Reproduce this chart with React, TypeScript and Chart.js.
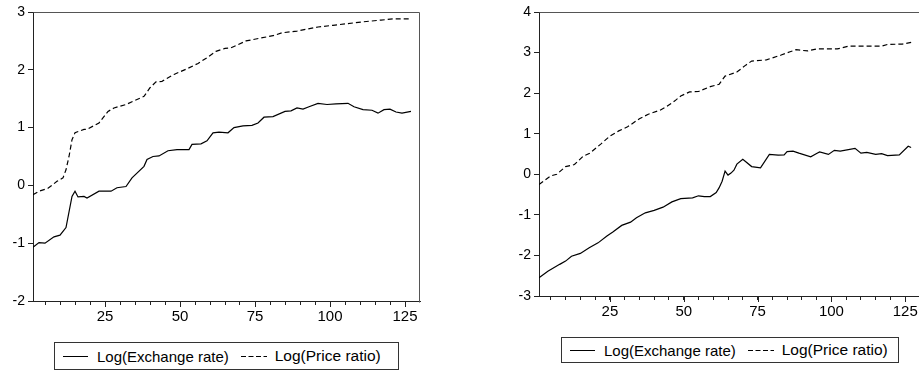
import React, { useEffect, useRef } from "react";
import { Chart, registerables } from "chart.js";

Chart.register(...registerables);

// ---------- data (observation index, value) ----------
const SERIES_NAMES = ["Log(Exchange rate)", "Log(Price ratio)"];

// Left panel
const LEFT_EXCH_OBS = [1, 3, 5, 8, 10, 12, 14, 15, 16, 18, 19, 23, 27, 29, 32, 34, 38, 39, 41, 43, 46, 49, 53, 54, 57, 59, 61, 63, 66, 68, 71, 74, 76, 78, 81, 85, 87, 89, 91, 93, 96, 99, 102, 106, 108, 111, 114, 116, 118, 120, 122, 124, 127];
const LEFT_EXCH_VAL = [-1.07, -0.99, -1.0, -0.89, -0.86, -0.73, -0.19, -0.10, -0.20, -0.19, -0.22, -0.10, -0.10, -0.04, -0.02, 0.13, 0.33, 0.45, 0.50, 0.51, 0.60, 0.62, 0.62, 0.71, 0.72, 0.77, 0.91, 0.92, 0.91, 1.0, 1.03, 1.04, 1.08, 1.18, 1.19, 1.28, 1.29, 1.34, 1.32, 1.36, 1.42, 1.40, 1.41, 1.42, 1.36, 1.31, 1.30, 1.25, 1.31, 1.32, 1.27, 1.25, 1.28];
const LEFT_PRICE_OBS = [1, 3, 6, 9, 11, 12, 13, 14, 15, 18, 19, 23, 26, 28, 32, 38, 40, 42, 44, 48, 52, 56, 59, 62, 65, 67, 72, 77, 81, 84, 89, 96, 101, 106, 111, 117, 121, 127];
const LEFT_PRICE_VAL = [-0.16, -0.10, -0.05, 0.07, 0.13, 0.27, 0.50, 0.79, 0.91, 0.97, 0.97, 1.08, 1.28, 1.34, 1.40, 1.54, 1.69, 1.79, 1.80, 1.92, 2.01, 2.11, 2.21, 2.32, 2.37, 2.38, 2.50, 2.55, 2.59, 2.64, 2.67, 2.74, 2.77, 2.80, 2.83, 2.86, 2.88, 2.88];

// Right panel
const RIGHT_EXCH_OBS = [1, 4, 8, 10, 12, 15, 18, 21, 24, 26, 29, 32, 34, 37, 40, 43, 46, 49, 53, 55, 57, 59, 61, 62, 63, 64, 65, 66, 67, 68, 70, 73, 76, 79, 82, 84, 85, 87, 89, 93, 95, 96, 99, 101, 103, 108, 110, 112, 115, 117, 119, 123, 126, 127];
const RIGHT_EXCH_VAL = [-2.55, -2.39, -2.22, -2.14, -2.02, -1.95, -1.81, -1.69, -1.52, -1.42, -1.26, -1.18, -1.07, -0.95, -0.89, -0.81, -0.68, -0.60, -0.58, -0.53, -0.55, -0.55, -0.45, -0.33, -0.17, 0.08, -0.02, 0.03, 0.10, 0.25, 0.37, 0.19, 0.16, 0.49, 0.47, 0.48, 0.56, 0.57, 0.52, 0.43, 0.51, 0.55, 0.49, 0.59, 0.57, 0.64, 0.52, 0.54, 0.49, 0.51, 0.46, 0.48, 0.69, 0.66];
const RIGHT_PRICE_OBS = [1, 5, 7, 10, 13, 16, 18, 22, 25, 28, 31, 35, 38, 42, 44, 47, 49, 52, 55, 59, 62, 64, 68, 71, 73, 78, 83, 86, 88, 92, 95, 102, 106, 112, 117, 119, 124, 127];
const RIGHT_PRICE_VAL = [-0.25, -0.04, 0, 0.19, 0.24, 0.45, 0.51, 0.75, 0.94, 1.07, 1.17, 1.37, 1.48, 1.58, 1.66, 1.81, 1.93, 2.03, 2.04, 2.16, 2.22, 2.42, 2.52, 2.69, 2.79, 2.82, 2.94, 3.02, 3.07, 3.04, 3.09, 3.09, 3.16, 3.16, 3.16, 3.20, 3.21, 3.25];

// ticks
const X_TICKS = [5, 10, 15, 20, 25, 30, 35, 40, 45, 50, 55, 60, 65, 70, 75, 80, 85, 90, 95, 100, 105, 110, 115, 120, 125];
const X_LABELED = [25, 50, 75, 100, 125];
const LEFT_Y_TICKS = [-2, -1, 0, 1, 2, 3];
const RIGHT_Y_TICKS = [-3, -2, -1, 0, 1, 2, 3, 4];

const FONT = '"Liberation Sans", Arial, sans-serif';
const AXIS_COLOR = "#222";

function pts(xs: number[], ys: number[]) {
  return xs.map((x, i) => ({ x, y: ys[i] }));
}

const framePlugin = {
  id: "frame",
  afterDraw(chart: any) {
    const { ctx, chartArea: a, scales } = chart;
    ctx.save();
    ctx.lineWidth = 1;
    ctx.strokeStyle = "#555";
    ctx.beginPath();
    const l = Math.round(a.left) + 0.5;
    const r = Math.round(a.right) - 0.5;
    const t = Math.round(a.top) + 0.5;
    const b = Math.round(a.bottom) - 0.5;
    ctx.moveTo(l, t);
    ctx.lineTo(r, t);
    ctx.lineTo(r, b + 2);
    ctx.stroke();
    // longer major ticks
    ctx.strokeStyle = AXIS_COLOR;
    const xs = scales.x;
    for (const v of X_LABELED) {
      const px = Math.round(xs.getPixelForValue(v)) + 0.5;
      ctx.beginPath();
      ctx.moveTo(px, a.bottom);
      ctx.lineTo(px, a.bottom + 6);
      ctx.stroke();
    }
    ctx.restore();
  },
};

type PanelProps = {
  left: number;
  width: number;
  height: number;
  padTop: number;
  padRight: number;
  yWidth: number;
  xHeight: number;
  yMin: number;
  yMax: number;
  yTicks: number[];
  exch: { x: number; y: number }[];
  price: { x: number; y: number }[];
};

function Panel(p: PanelProps) {
  const ref = useRef<HTMLCanvasElement | null>(null);
  useEffect(() => {
    if (!ref.current) return;
    const chart = new Chart(ref.current, {
      type: "line",
      data: {
        datasets: [
          {
            label: SERIES_NAMES[0],
            data: p.exch,
            borderColor: "#000",
            borderWidth: 1.2,
            pointRadius: 0,
            tension: 0,
            fill: false,
          },
          {
            label: SERIES_NAMES[1],
            data: p.price,
            borderColor: "#000",
            borderWidth: 1.2,
            borderDash: [5, 3],
            pointRadius: 0,
            tension: 0,
            fill: false,
          },
        ],
      },
      options: {
        animation: false,
        responsive: true,
        maintainAspectRatio: false,
        layout: { padding: { top: p.padTop, right: p.padRight, left: 0, bottom: 0 } },
        plugins: { legend: { display: false }, tooltip: { enabled: false } },
        scales: {
          x: {
            type: "linear",
            min: 1,
            max: 130,
            afterBuildTicks: (s: any) => {
              s.ticks = X_TICKS.map((v) => ({ value: v }));
            },
            afterFit: (s: any) => {
              s.height = p.xHeight;
            },
            grid: { drawOnChartArea: false, drawTicks: true, tickLength: 4, color: AXIS_COLOR, lineWidth: 1 },
            border: { display: true, color: AXIS_COLOR, width: 1 },
            ticks: {
              autoSkip: false,
              maxRotation: 0,
              padding: 3,
              color: "#000",
              font: { family: FONT, size: 15 },
              callback: (v: any) => (X_LABELED.includes(Number(v)) ? String(v) : ""),
            },
          },
          y: {
            type: "linear",
            min: p.yMin,
            max: p.yMax,
            afterBuildTicks: (s: any) => {
              s.ticks = p.yTicks.map((v) => ({ value: v }));
            },
            afterFit: (s: any) => {
              s.width = p.yWidth;
            },
            grid: { drawOnChartArea: false, drawTicks: true, tickLength: 5, color: AXIS_COLOR, lineWidth: 1 },
            border: { display: true, color: AXIS_COLOR, width: 1 },
            ticks: {
              padding: 3,
              color: "#000",
              font: { family: FONT, size: 14 },
              callback: (v: any) => String(v),
            },
          },
        },
      },
      plugins: [framePlugin],
    });
    return () => chart.destroy();
  }, []);
  return (
    <div style={{ position: "absolute", left: p.left, top: 0, width: p.width, height: p.height }}>
      <canvas ref={ref} />
    </div>
  );
}

function Legend({ left, top, width, height }: { left: number; top: number; width: number; height: number }) {
  return (
    <div
      style={{
        position: "absolute",
        left,
        top,
        width,
        height,
        boxSizing: "border-box",
        border: "1px solid #333",
        display: "flex",
        alignItems: "center",
        font: `15px ${FONT}`,
        color: "#000",
        whiteSpace: "nowrap",
        background: "#fff",
      }}
    >
      <svg width={25} height={10} style={{ marginLeft: 8 }}>
        <line x1={0} y1={5.5} x2={25} y2={5.5} stroke="#000" strokeWidth={1} />
      </svg>
      <span style={{ marginLeft: 9 }}>{SERIES_NAMES[0]}</span>
      <svg width={26} height={10} style={{ marginLeft: 12 }}>
        <line x1={0} y1={5.5} x2={26} y2={5.5} stroke="#000" strokeWidth={1} strokeDasharray="5 2.5" />
      </svg>
      <span style={{ marginLeft: 8, fontSize: 15.5 }}>{SERIES_NAMES[1]}</span>
    </div>
  );
}

export default function App() {
  return (
    <div
      style={{
        position: "absolute",
        left: 0,
        top: 0,
        width: 919,
        height: 373,
        overflow: "hidden",
        background: "#fff",
      }}
    >
      <Panel
        left={0}
        width={440}
        height={340}
        padTop={12}
        padRight={20}
        yWidth={33}
        xHeight={39}
        yMin={-2}
        yMax={3}
        yTicks={LEFT_Y_TICKS}
        exch={pts(LEFT_EXCH_OBS, LEFT_EXCH_VAL)}
        price={pts(LEFT_PRICE_OBS, LEFT_PRICE_VAL)}
      />
      <Panel
        left={460}
        width={462}
        height={335}
        padTop={12}
        padRight={2}
        yWidth={79}
        xHeight={39}
        yMin={-3}
        yMax={4}
        yTicks={RIGHT_Y_TICKS}
        exch={pts(RIGHT_EXCH_OBS, RIGHT_EXCH_VAL)}
        price={pts(RIGHT_PRICE_OBS, RIGHT_PRICE_VAL)}
      />
      <Legend left={54} top={342} width={345} height={28} />
      <Legend left={561} top={337} width={338} height={26} />
    </div>
  );
}
